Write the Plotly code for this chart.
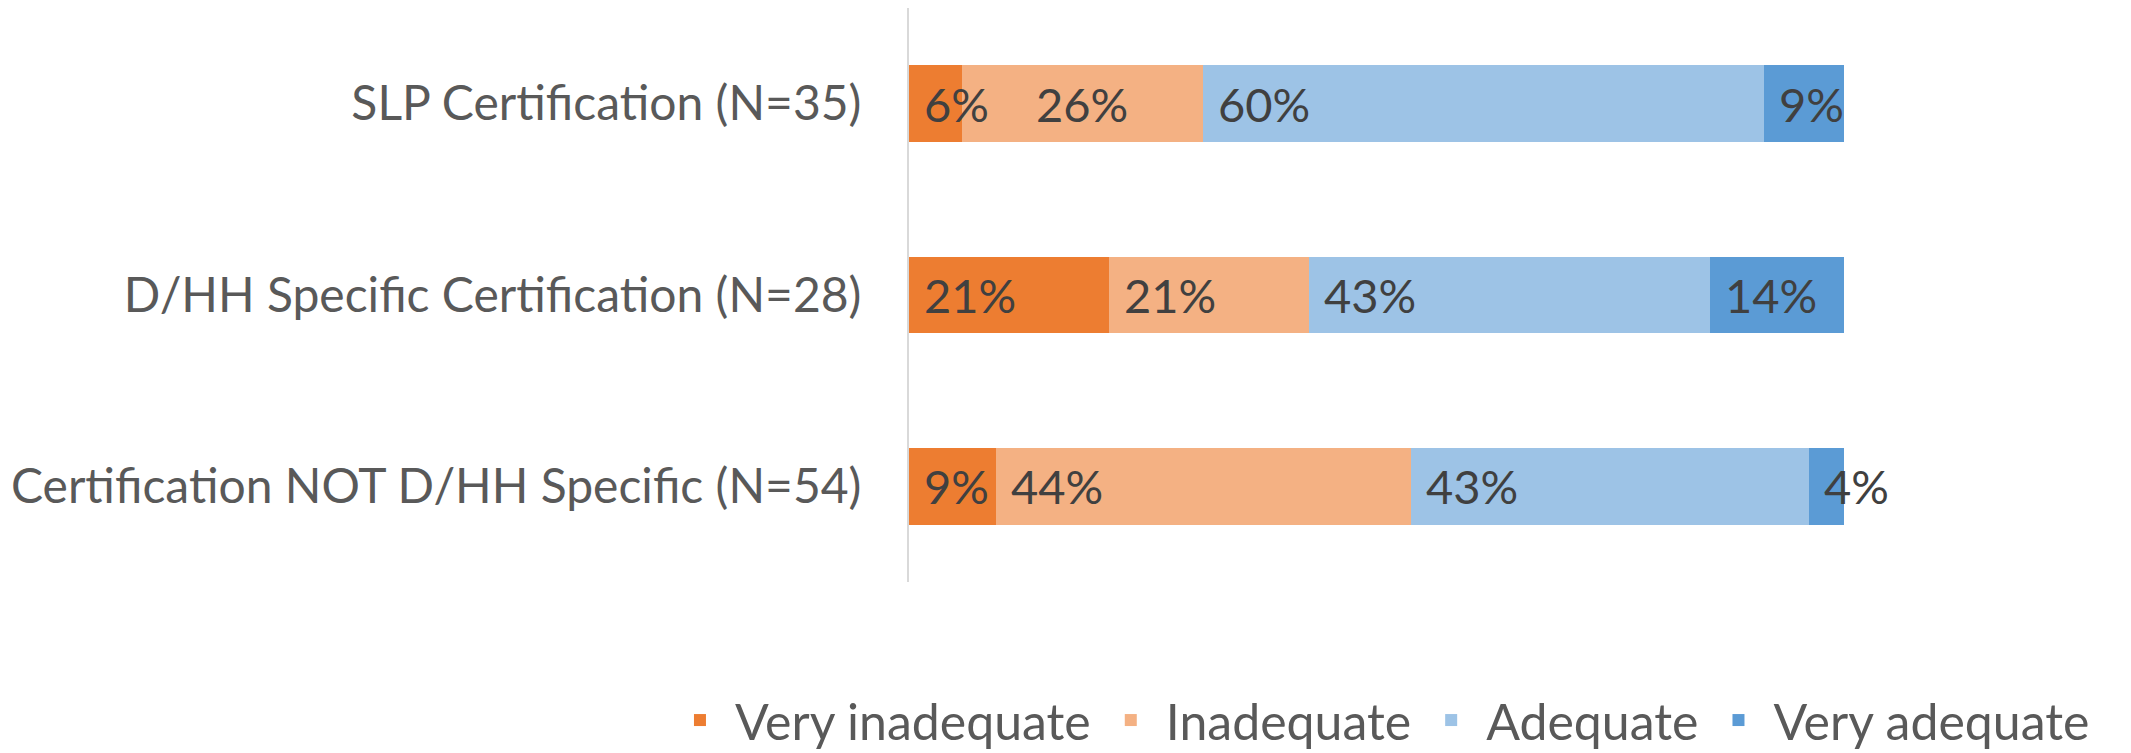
import plotly.graph_objects as go

categories = ["SLP Certification (N=35)",
              "D/HH Specific Certification (N=28)",
              "Certification NOT D/HH Specific (N=54)"]
series_names = ["Very inadequate", "Inadequate", "Adequate", "Very adequate"]
very_inadequate = [5.7, 21.4, 9.3]
inadequate = [25.7, 21.4, 44.4]
adequate = [60.0, 42.9, 42.6]
very_adequate = [8.6, 14.3, 3.7]
colors = ["#ED7D31", "#F4B183", "#9DC3E6", "#5B9BD5"]
# label placement per series/category: "base" = near segment start, "center" = centred
label_mode = [["base", "base", "base"],
              ["center", "base", "base"],
              ["base", "base", "base"],
              ["base", "base", "base"]]

FONT = "Lato"
series = [very_inadequate, inadequate, adequate, very_adequate]

fig = go.Figure()
for name, vals, col in zip(series_names, series, colors):
    fig.add_trace(go.Bar(
        y=categories, x=vals, name=name, orientation="h",
        marker=dict(color=col, line=dict(width=0)),
        hoverinfo="skip",
    ))

annotations = []
for j, cat in enumerate(categories):
    base = 0.0
    for i, vals in enumerate(series):
        v = vals[j]
        txt = f"{round(v):d}%"
        if label_mode[i][j] == "center":
            annotations.append(dict(x=base + v / 2, y=cat, xref="x", yref="y",
                                    text=txt, showarrow=False, xanchor="center",
                                    font=dict(family=FONT, size=47, color="#404040")))
        else:
            annotations.append(dict(x=base, y=cat, xref="x", yref="y",
                                    text=txt, showarrow=False, xanchor="left",
                                    xshift=13,
                                    font=dict(family=FONT, size=47, color="#404040")))
        base += v

fig.update_layout(
    width=2131, height=753,
    margin=dict(l=901, r=295, t=0, b=179, pad=0, autoexpand=False),
    barmode="stack", bargap=0.6,
    plot_bgcolor="white", paper_bgcolor="white",
    font=dict(family=FONT, size=48, color="#595959"),
    xaxis=dict(range=[0, 100], showgrid=False, zeroline=False,
               showticklabels=False, showline=False, fixedrange=True,
               automargin=False),
    yaxis=dict(categoryorder="array", categoryarray=categories,
               autorange="reversed", showgrid=False, zeroline=False,
               showline=True, linecolor="#D9D9D9", linewidth=2,
               ticks="", ticklabelstandoff=36, automargin=False,
               tickfont=dict(family=FONT, size=48, color="#595959")),
    legend=dict(orientation="h", traceorder="normal",
                x=-0.261, xanchor="left",
                y=-0.2405, yanchor="middle",
                itemwidth=60,
                font=dict(family=FONT, size=50, color="#595959"),
                itemclick=False, itemdoubleclick=False),
    annotations=annotations,
    showlegend=True,
)

fig.write_html("out.html")
